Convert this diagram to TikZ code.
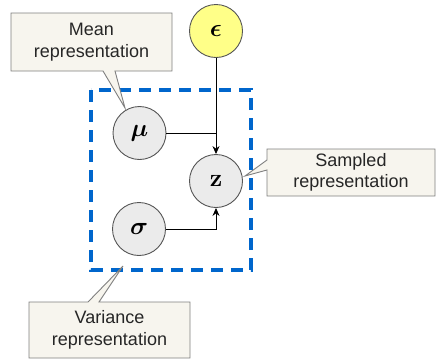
\documentclass[tikz,border=0pt]{standalone}
\usepackage{amsmath}
\usepackage{bm}
\usepackage[no-math]{fontspec}
\setmainfont{Liberation Sans}
\usetikzlibrary{arrows.meta}
\definecolor{circfill}{HTML}{EBEBEB}
\definecolor{circline}{HTML}{555555}
\definecolor{epsfill}{HTML}{FFFF88}
\definecolor{callfill}{HTML}{F7F5EE}
\definecolor{callline}{HTML}{7F7F7F}
\definecolor{dashblue}{HTML}{0066CC}
\tikzset{
  var/.style={circle, draw=circline, line width=0.9pt, fill=circfill, minimum size=53pt, inner sep=0pt, font=\fontsize{26}{26}\selectfont},
  epsvar/.style={var, fill=epsfill},
  callbox/.style={draw=callline, fill=callfill, line width=0.9pt, line join=miter},
  calltext/.style={align=center, font=\fontsize{18}{21.5}\selectfont, text=black!85},
  conn/.style={draw=black, line width=0.8pt},
  arr/.style={conn, -{Stealth[length=8pt, width=7pt]}},
  group/.style={draw=dashblue, line width=3.5pt, dash pattern=on 12pt off 8pt}
}
\begin{document}
\begin{tikzpicture}[x=1pt, y=-1pt]
\useasboundingbox (0,0) rectangle (436,360);
% dashed group
\draw[group] (91,90) rectangle (251,270);
% variables
\node[epsvar] (eps) at (216,31) {$\bm{\epsilon}$};
\node[var] (mu) at (139.5,133) {$\bm{\mu}$};
\node[var] (z) at (216,181) {$\mathbf{z}$};
\node[var] (sigma) at (139,229) {$\bm{\sigma}$};
% connectors
\coordinate (join) at (z.north |- mu.east);
\draw[conn] (mu.east) -- (join);
\draw[arr] (eps.south) -- (z.north);
\draw[arr] (sigma.east) -| (z.south);
% callouts
\coordinate (mutip) at (125,108);
\coordinate (ztip) at (245,176);
\coordinate (sigtip) at (123,266);
\path[callbox] (11,13) -- (172,13) -- (172,71) -- (115,71) -- (mutip) -- (103,71) -- (11,71) -- cycle;
\node[calltext] (meanlbl) at (91.5,42) {Mean\\representation};
\path[callbox] (267,149) -- (435,149) -- (435,196) -- (267,196) -- (267,170) -- (ztip) -- (267,160) -- cycle;
\node[calltext] (samplbl) at (351,172.5) {Sampled\\representation};
\path[callbox] (29,302) -- (88,302) -- (sigtip) -- (99,302) -- (190,302) -- (190,358) -- (29,358) -- cycle;
\node[calltext] (varlbl) at (109.5,330) {Variance\\representation};
\end{tikzpicture}
\end{document}
